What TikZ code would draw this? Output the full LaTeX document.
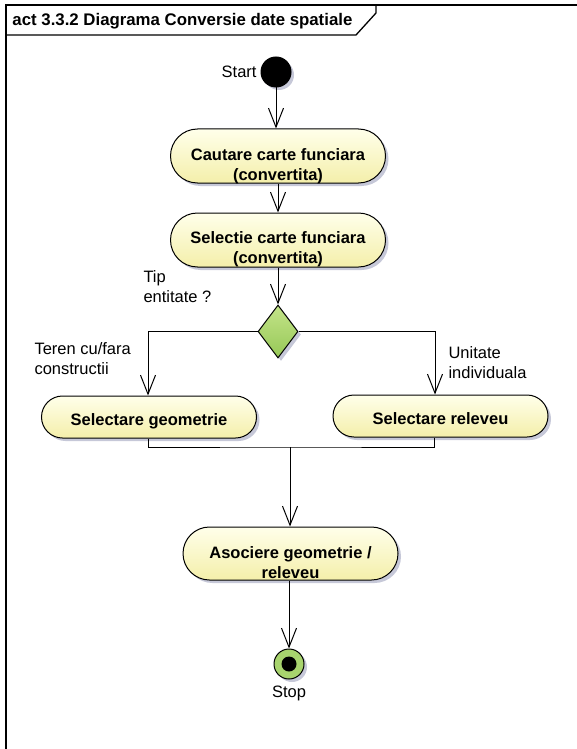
\documentclass[tikz,border=0pt]{standalone}
\usepackage{fontspec}
\setmainfont{Liberation Sans}
\usetikzlibrary{arrows.meta,shapes.geometric,shapes.misc,shadows}

\definecolor{boxtop}{RGB}{255,255,234}
\definecolor{boxbot}{RGB}{244,239,170}
\definecolor{dectop}{RGB}{196,228,138}
\definecolor{decbot}{RGB}{150,200,86}
\definecolor{stopfill}{RGB}{168,212,110}
\definecolor{shadowc}{RGB}{198,200,216}

\begin{document}
\begin{tikzpicture}[x=1pt,y=-1pt,line width=1pt,
  shad/.style={drop shadow={shadow xshift=3pt,shadow yshift=-3pt,fill=shadowc,opacity=1}},
  act/.style={rounded rectangle,draw,line width=1pt,top color=boxtop,bottom color=boxbot,
    minimum width=215pt,inner sep=0pt,shad},
  boxtext/.style={font=\bfseries\fontsize{16.5}{20}\selectfont,align=center,inner sep=0pt},
  lbl/.style={font=\fontsize{16.5}{20}\selectfont,align=left,inner sep=0pt},
  arr/.style={-{Straight Barb[length=19pt,width=15pt]},line width=1pt},
  frame/.style={line width=1.3pt}]
\useasboundingbox (0,0) rectangle (577,749);

% frame
\draw[frame] (6,749) -- (6,5) -- (577,5);
\draw[frame] (6,35) -- (356,35) -- (376,13) -- (376,5);
\node[boxtext,font=\bfseries\fontsize{16.8}{20}\selectfont,anchor=base west] (title) at (12,25.5) {act 3.3.2 Diagrama Conversie date spatiale};

% start
\node[circle,fill=black,draw=black,minimum size=30pt,inner sep=0pt,shad] (start) at (276,72) {};
\node[lbl,anchor=base east] (startlbl) at (257,77.5) {Start};

% actions
\node[act,minimum height=54pt] (cautare) at (278,156) {};
\node[boxtext,anchor=north] (cautaret) at (278,145.5) {\strut Cautare carte funciara\\(convertita)};

\node[act,minimum height=54pt] (selectie) at (278,240) {};
\node[boxtext,anchor=north] (selectiet) at (278,228.5) {\strut Selectie carte funciara\\(convertita)};

% decision
\node[diamond,draw,top color=dectop,bottom color=decbot,minimum width=40pt,minimum height=53pt,inner sep=0pt,shad] (dec) at (278,331.5) {};
\node[lbl,anchor=north west] (tiplbl) at (143,268) {\strut Tip\\entitate ?};

\node[act,minimum height=42pt] (geom) at (149,417) {};
\node[boxtext,anchor=base] (geomt) at (149,425) {Selectare geometrie};

\node[act,minimum height=42pt] (relev) at (440.5,416) {};
\node[boxtext,anchor=base] (relevt) at (440.5,424) {Selectare releveu};

\node[lbl,anchor=north west] (terenlbl) at (34,339.5) {\strut Teren cu/fara\\constructii};
\node[lbl,anchor=north west] (unitlbl) at (448,343.5) {\strut Unitate\\individuala};

\node[act,minimum height=53pt] (asoc) at (290.5,553.5) {};
\node[boxtext,anchor=north] (asoct) at (290.5,544) {\strut Asociere geometrie /\\releveu};

% stop
\node[circle,draw,fill=stopfill,minimum size=30pt,inner sep=0pt,shad] (stop) at (289,664) {};
\node[circle,fill=black,minimum size=15pt,inner sep=0pt] (stopdot) at (stop) {};
\node[lbl,anchor=base] (stoplbl) at (289,697) {Stop};

% connectors
\draw[arr] (start.south) -- (start.south |- cautare.north);
\draw[arr] (cautare.south) -- (selectie.north);
\draw[arr] (selectie.south) -- (dec.north);
\draw[arr] (dec.west) -| ([xshift=-1pt]geom.north);
\draw[arr] (dec.east) -| ([xshift=-5.5pt]relev.north);
\coordinate (join) at (290,447);
\draw ([xshift=-1pt]geom.south) |- (join) -| ([xshift=-6.5pt]relev.south);
\draw[arr] (join) -- (join |- asoc.north);
\draw[arr] (stop.north |- asoc.south) -- (stop.north);
\end{tikzpicture}
\end{document}
